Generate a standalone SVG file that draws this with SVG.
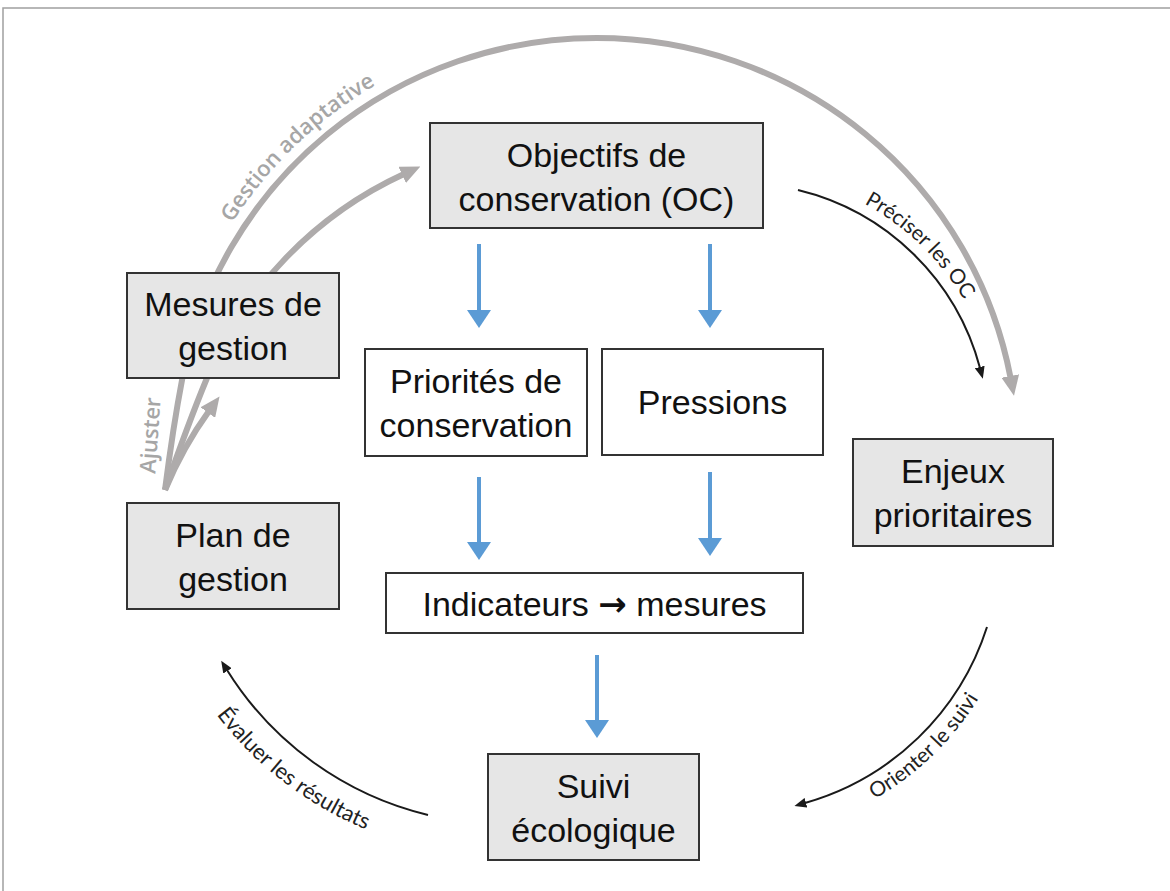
<svg xmlns="http://www.w3.org/2000/svg" width="1170" height="891" viewBox="0 0 1170 891">
<style>
.box{stroke:#333;stroke-width:2}
.g{fill:#e6e6e6}
.w{fill:#fff}
.t{font-family:"Liberation Sans",Arial,sans-serif;font-size:34px;fill:#111;text-anchor:middle}
.gray{fill:none;stroke:#aeabab;stroke-width:6}
.blk{fill:none;stroke:#1a1a1a;stroke-width:2}
.blue{fill:none;stroke:#5b9bd5;stroke-width:4}
.lbl{font-family:Lato,"Open Sans",sans-serif;font-size:21px;fill:#222}
.glbl{font-family:"Open Sans",sans-serif;font-size:22px;font-weight:600;fill:#a6a6a6}
</style>
<defs>
<marker id="gh" markerUnits="userSpaceOnUse" viewBox="0 0 20 18" markerWidth="20" markerHeight="18" refX="2" refY="9" orient="auto"><path d="M0,0 L20,9 L0,18 z" fill="#aeabab"/></marker>
<marker id="bh" markerUnits="userSpaceOnUse" viewBox="0 0 12 10" markerWidth="12" markerHeight="10" refX="1" refY="5" orient="auto"><path d="M0,0 L12,5 L0,10 z" fill="#1a1a1a"/></marker>
<marker id="uh" markerUnits="userSpaceOnUse" viewBox="0 0 18 24" markerWidth="18" markerHeight="24" refX="0" refY="12" orient="auto"><path d="M0,0 L18,12 L0,24 z" fill="#5b9bd5"/></marker>
<path id="pGest" d="M 170.5 381.3 A 428 428 0 0 1 536.4 29.9"/>
<path id="pPrec" d="M 785.1 176 A 260 260 0 0 1 994.3 377.9"/>
<path id="pOri" d="M 806.6 826.9 A 290 290 0 0 0 1008.8 631.6"/>
<path id="pEval" d="M 164.4 619.7 A 361 361 0 0 0 471.3 855.2"/>
</defs>
<rect x="3" y="8" width="1180" height="900" fill="none" stroke="#a0a0a0" stroke-width="1.5"/>
<g id="connectors">
<path class="gray" d="M 165 490 Q 173 427 182.4 378 A 421.5 418 0 0 1 1010.6 378" marker-end="url(#gh)"/>
<path class="gray" d="M 165 490 Q 188 424 207 378 A 390 390 0 0 1 404 174" marker-end="url(#gh)"/>
<path class="gray" d="M 165 490 Q 183 447 209 411" marker-end="url(#gh)"/>
<path class="blk" d="M 798 190 A 249 249 0 0 1 980 368" marker-end="url(#bh)"/>
<path class="blk" d="M 987 627 A 268 268 0 0 1 805 803" marker-end="url(#bh)"/>
<path class="blk" d="M 428 815 A 327 327 0 0 1 227 670" marker-end="url(#bh)"/>
<path class="blue" d="M 479 244 V 310" marker-end="url(#uh)"/>
<path class="blue" d="M 710 244 V 310" marker-end="url(#uh)"/>
<path class="blue" d="M 479 477 V 542" marker-end="url(#uh)"/>
<path class="blue" d="M 710 472 V 538" marker-end="url(#uh)"/>
<path class="blue" d="M 597 655 V 720" marker-end="url(#uh)"/>
<text class="glbl"><textPath href="#pGest" startOffset="50%" text-anchor="middle">Gestion adaptative</textPath></text>
<text class="glbl" transform="translate(158,436) rotate(-86)" text-anchor="middle">Ajuster</text>
<text class="lbl"><textPath href="#pPrec" startOffset="50%" text-anchor="middle">Préciser les OC</textPath></text>
<text class="lbl"><textPath href="#pOri" startOffset="50%" text-anchor="middle">Orienter le suivi</textPath></text>
<text class="lbl" style="font-size:22px"><textPath href="#pEval" startOffset="50%" text-anchor="middle">Évaluer les résultats</textPath></text>
</g>
<g id="objectifs"><rect class="box g" x="430" y="123" width="333" height="105"/><text class="t" x="596.5" y="167">Objectifs de</text><text class="t" x="596.5" y="211">conservation (OC)</text></g>
<g id="priorites"><rect class="box w" x="365" y="349" width="222" height="107"/><text class="t" x="476" y="393">Priorités de</text><text class="t" x="476" y="437">conservation</text></g>
<g id="pressions"><rect class="box w" x="602" y="349" width="221" height="106"/><text class="t" x="712.5" y="414">Pressions</text></g>
<g id="indicateurs"><rect class="box w" x="386" y="573" width="417" height="60"/><text class="t" x="594.5" y="616">Indicateurs <tspan font-family="DejaVu Sans" font-weight="bold">→</tspan> mesures</text></g>
<g id="suivi"><rect class="box g" x="488" y="754" width="211" height="106"/><text class="t" x="593.5" y="798">Suivi</text><text class="t" x="593.5" y="842">écologique</text></g>
<g id="enjeux"><rect class="box g" x="853" y="439" width="200" height="107"/><text class="t" x="953" y="483">Enjeux</text><text class="t" x="953" y="527">prioritaires</text></g>
<g id="mesures"><rect class="box g" x="127" y="273" width="212" height="105"/><text class="t" x="233" y="316">Mesures de</text><text class="t" x="233" y="360">gestion</text></g>
<g id="plan"><rect class="box g" x="127" y="503" width="212" height="106"/><text class="t" x="233" y="547">Plan de</text><text class="t" x="233" y="591">gestion</text></g>
</svg>
